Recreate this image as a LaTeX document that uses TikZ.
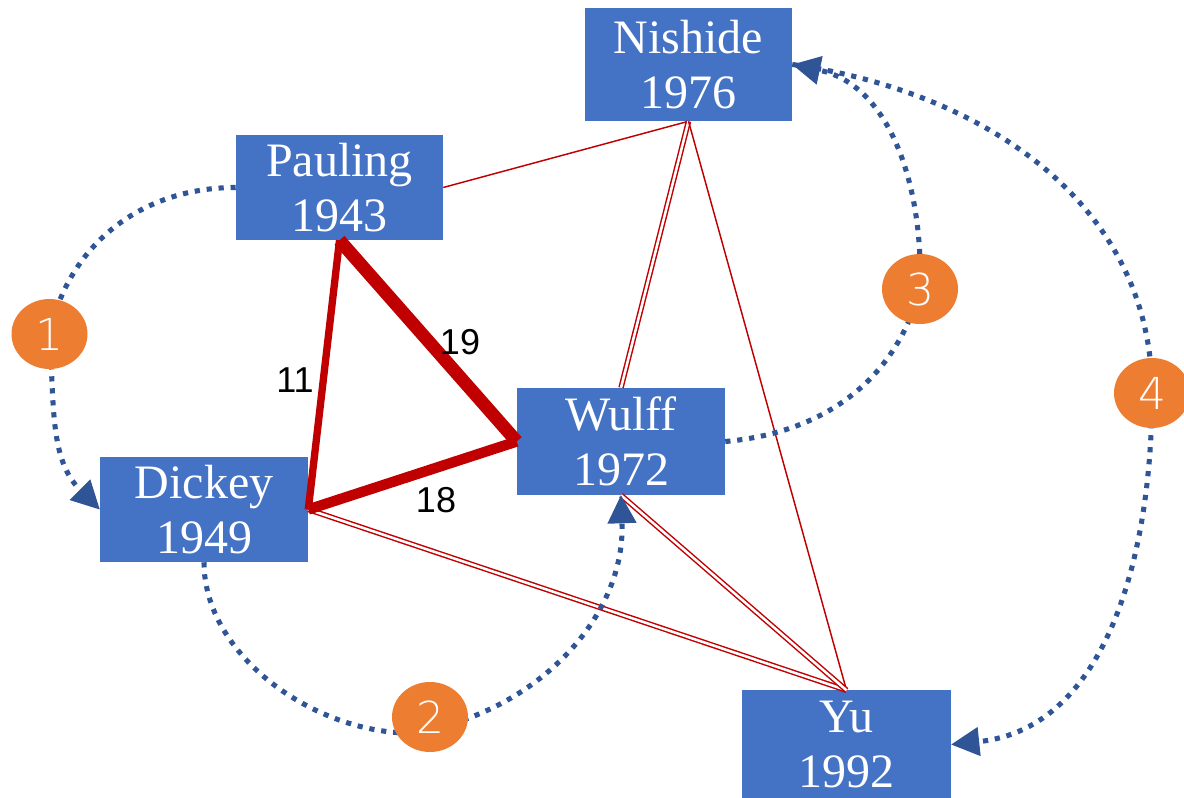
\documentclass[tikz,border=0pt]{standalone}
\usepackage{fontspec}
\setmainfont{Liberation Serif}
\newfontfamily\labfont{Liberation Sans}
\newfontfamily\numfont{DejaVu Sans ExtraLight}
\usetikzlibrary{arrows.meta,shapes.geometric}
\definecolor{boxblue}{HTML}{4472C4}
\definecolor{linkred}{HTML}{C00000}
\definecolor{flowblue}{HTML}{2F5597}
\definecolor{badgeorange}{HTML}{ED7D31}
\tikzset{
  person/.style={fill=boxblue, text=white, inner sep=0pt, align=center,
    font=\fontsize{36}{41.25}\selectfont},
  badgenode/.style={ellipse, fill=badgeorange, text=white, inner sep=0pt,
    minimum width=57pt, minimum height=52.5pt, font=\numfont\fontsize{33}{34}\selectfont},
  thinlink/.style={draw=linkred, line width=1.1pt},
  dbllink/.style={draw=linkred, double=white, line width=1.1pt, double distance=1.9pt},
  heavylink/.style={draw=linkred, line cap=butt},
  flow/.style={draw=flowblue, line width=3.8pt, dash pattern=on 3.9pt off 5.1pt},
  flowarrow/.style={flow, -{Triangle[length=21pt,width=22pt,line width=0pt]}},
  edgelab/.style={text=black, inner sep=0pt, font=\labfont\fontsize{27}{29}\selectfont}
}
\begin{document}
\begin{tikzpicture}[x=0.75pt,y=0.75pt]
\useasboundingbox (0,0) rectangle (1184,798);
% person boxes
\node[person, minimum width=155.25pt, minimum height=84.75pt] (Nishide) at (688.5,733.5) {Nishide\\1976};
\node[person, minimum width=155.25pt, minimum height=78.75pt] (Pauling) at (339.5,610.5) {Pauling\\1943};
\node[person, minimum width=156pt, minimum height=80.25pt] (Wulff) at (621,356.5) {Wulff\\1972};
\node[person, minimum width=156pt, minimum height=78.75pt] (Dickey) at (204,288.5) {Dickey\\1949};
\node[person, minimum width=156.75pt, minimum height=81pt] (Yu) at (846.5,53.5) {Yu\\1992};
% red links
\draw[thinlink] (Pauling.east) -- (Nishide.south);
\draw[dbllink] (Nishide.south) -- (Wulff.north);
\draw[thinlink] (Nishide.south) -- (Yu.north);
\draw[dbllink] (Dickey.east) -- (Yu.north);
\draw[dbllink] (Wulff.south) -- (Yu.north);
\draw[heavylink, line width=5.5pt] (Pauling.south) -- (Dickey.east);
\draw[heavylink, line width=9.8pt] (Pauling.south) -- (Wulff.west);
\draw[heavylink, line width=7.8pt] (Dickey.east) -- (Wulff.west);
\node[edgelab] (l11) at (295,418) {11};
\node[edgelab] (l19) at (460,456) {19};
\node[edgelab] (l18) at (436,298) {18};
% badge positions
\coordinate (k1) at (49.5,464);
\coordinate (k2) at (430,81);
\coordinate (k3) at (920,509);
\coordinate (k4) at (1152,405);
\coordinate (b2) at (410,65);
% blue flows
\draw[flowarrow] (Pauling.west) to[out=180,in=78] (k1) to[out=-86,in=135] (Dickey.west);
\draw[flowarrow] (Dickey.south) to[out=-90,in=180,looseness=0.9] (b2) to[out=8,in=-88] (Wulff.south);
\draw[flowarrow] (Wulff.east) to[out=5,in=-105] (k3) to[out=88,in=-12] (Nishide.east);
\draw[flowarrow] (Nishide.east) to[out=-8,in=90] (k4) to[out=-90,in=6] (Yu.east);
% badges
\node[badgenode] (c1) at (k1) {1};
\node[badgenode] (c2) at (k2) {2};
\node[badgenode] (c3) at (k3) {3};
\node[badgenode] (c4) at (k4) {4};
\end{tikzpicture}
\end{document}
